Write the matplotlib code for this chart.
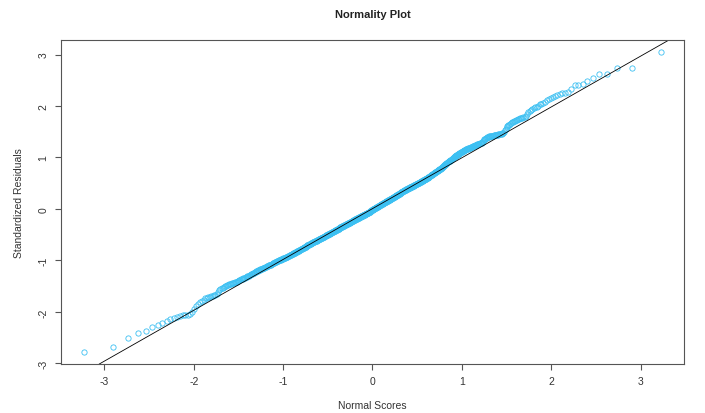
import numpy as np
import matplotlib
matplotlib.use("Agg")
import matplotlib.pyplot as plt
from statistics import NormalDist

plt.rcParams['font.family'] = ['Liberation Sans', 'DejaVu Sans']
plt.rcParams['axes.unicode_minus'] = False

# sorted standardized residuals (n = 800)
resid_tail_lo = [
    -2.78, -2.69, -2.50, -2.42, -2.38, -2.30, -2.25, -2.22, -2.17, -2.13,
    -2.11, -2.10, -2.08, -2.07, -2.06, -2.06, -2.04, -2.00, -1.94, -1.88,
    -1.84, -1.81, -1.78, -1.76, -1.74, -1.73, -1.72, -1.71, -1.70, -1.69,
]
resid_lo = [
    -1.68, -1.67, -1.66, -1.62, -1.57, -1.55, -1.54, -1.53, -1.51, -1.50,
    -1.49, -1.48, -1.47, -1.46, -1.45, -1.45, -1.44, -1.43, -1.43, -1.42,
    -1.42, -1.41, -1.40, -1.40, -1.39, -1.38, -1.37, -1.36, -1.36, -1.35,
    -1.34, -1.34, -1.33, -1.32, -1.31, -1.30, -1.30, -1.29, -1.28, -1.27,
    -1.27, -1.26, -1.25, -1.24, -1.24, -1.23, -1.22, -1.21, -1.21, -1.20,
    -1.19, -1.19, -1.18, -1.17, -1.17, -1.16, -1.16, -1.15, -1.15, -1.14,
    -1.14, -1.13, -1.12, -1.12, -1.11, -1.11, -1.10, -1.10, -1.09, -1.09,
    -1.09, -1.08, -1.08, -1.07, -1.07, -1.06, -1.06, -1.05, -1.05, -1.04,
    -1.04, -1.03, -1.03, -1.02, -1.02, -1.01, -1.01, -1.00, -1.00, -1.00,
    -0.99, -0.99, -0.98, -0.98, -0.97, -0.97, -0.97, -0.96,
]
resid_mid = [
    -0.96, -0.96, -0.95, -0.95, -0.94, -0.94, -0.93, -0.93, -0.93, -0.92, -0.92, -0.91,
    -0.91, -0.90, -0.90, -0.89, -0.89, -0.89, -0.88, -0.88, -0.87, -0.87,
    -0.86, -0.86, -0.86, -0.85, -0.85, -0.84, -0.84, -0.83, -0.83, -0.82,
    -0.82, -0.82, -0.81, -0.81, -0.80, -0.80, -0.79, -0.79, -0.78, -0.78,
    -0.78, -0.77, -0.77, -0.76, -0.76, -0.75, -0.75, -0.75, -0.74, -0.74,
    -0.73, -0.73, -0.73, -0.72, -0.72, -0.71, -0.71, -0.71, -0.70, -0.70,
    -0.70, -0.69, -0.69, -0.68, -0.68, -0.68, -0.67, -0.67, -0.67, -0.66,
    -0.66, -0.65, -0.65, -0.65, -0.64, -0.64, -0.64, -0.63, -0.63, -0.63,
    -0.62, -0.62, -0.62, -0.61, -0.61, -0.60, -0.60, -0.60, -0.59, -0.59,
    -0.59, -0.58, -0.58, -0.58, -0.57, -0.57, -0.57, -0.56, -0.56, -0.56,
    -0.55, -0.55, -0.55, -0.54, -0.54, -0.54, -0.53, -0.53, -0.52, -0.52,
    -0.52, -0.51, -0.51, -0.51, -0.50, -0.50, -0.50, -0.49, -0.49, -0.49,
    -0.48, -0.48, -0.48, -0.47, -0.47, -0.47, -0.46, -0.46, -0.46, -0.45,
    -0.45, -0.45, -0.44, -0.44, -0.44, -0.43, -0.43, -0.43, -0.42, -0.42,
    -0.42, -0.41, -0.41, -0.41, -0.40, -0.40, -0.40, -0.39, -0.39, -0.39,
    -0.38, -0.38, -0.38, -0.37, -0.37, -0.37, -0.36, -0.36, -0.36, -0.36,
    -0.35, -0.35, -0.35, -0.34, -0.34, -0.34, -0.33, -0.33, -0.33, -0.33,
    -0.32, -0.32, -0.32, -0.31, -0.31, -0.31, -0.30, -0.30, -0.30, -0.30,
    -0.29, -0.29, -0.29, -0.28, -0.28, -0.28, -0.27, -0.27, -0.27, -0.27,
    -0.26, -0.26, -0.26, -0.25, -0.25, -0.25, -0.24, -0.24, -0.24, -0.23,
    -0.23, -0.23, -0.22, -0.22, -0.22, -0.21, -0.21, -0.21, -0.20, -0.20,
    -0.20, -0.19, -0.19, -0.19, -0.19, -0.18, -0.18, -0.18, -0.17, -0.17,
    -0.17, -0.17, -0.16, -0.16, -0.16, -0.15, -0.15, -0.15, -0.14, -0.14,
    -0.14, -0.14, -0.13, -0.13, -0.13, -0.12, -0.12, -0.12, -0.12, -0.11,
    -0.11, -0.11, -0.10, -0.10, -0.10, -0.10, -0.09, -0.09, -0.09, -0.08,
    -0.08, -0.08, -0.07, -0.07, -0.07, -0.07, -0.06, -0.06, -0.06, -0.05,
    -0.05, -0.05, -0.04, -0.04, -0.04, -0.03, -0.03, -0.03, -0.02, -0.02,
    -0.02, -0.01, -0.01, -0.01, 0.00, 0.00, 0.00, 0.01, 0.01, 0.01,
    0.02, 0.02, 0.02, 0.03, 0.03, 0.03, 0.04, 0.04, 0.04, 0.05, 0.05,
    0.05, 0.06, 0.06, 0.06, 0.07, 0.07, 0.07, 0.08, 0.08, 0.08,
    0.09, 0.09, 0.09, 0.10, 0.10, 0.10, 0.11, 0.11, 0.11, 0.12,
    0.12, 0.12, 0.13, 0.13, 0.13, 0.14, 0.14, 0.14, 0.15, 0.15,
    0.15, 0.16, 0.16, 0.16, 0.17, 0.17, 0.17, 0.18, 0.18, 0.18,
    0.19, 0.19, 0.19, 0.20, 0.20, 0.20, 0.21, 0.21, 0.21, 0.22,
    0.22, 0.22, 0.23, 0.23, 0.23, 0.24, 0.24, 0.24, 0.25, 0.25,
    0.26, 0.26, 0.26, 0.27, 0.27, 0.27, 0.28, 0.28, 0.28, 0.29,
    0.29, 0.29, 0.30, 0.30, 0.30, 0.31, 0.31, 0.31, 0.32, 0.32,
    0.32, 0.33, 0.33, 0.33, 0.34, 0.34, 0.34, 0.35, 0.35, 0.35,
    0.36, 0.36, 0.36, 0.37, 0.37, 0.37, 0.38, 0.38, 0.38, 0.39,
    0.39, 0.39, 0.40, 0.40, 0.40, 0.41, 0.41, 0.41, 0.42, 0.42,
    0.42, 0.42, 0.43, 0.43, 0.43, 0.44, 0.44, 0.44, 0.45, 0.45,
    0.45, 0.46, 0.46, 0.46, 0.47, 0.47, 0.47, 0.48, 0.48, 0.48,
    0.49, 0.49, 0.49, 0.50, 0.50, 0.50, 0.51, 0.51, 0.51, 0.52,
    0.52, 0.52, 0.53, 0.53, 0.53, 0.54, 0.54, 0.55, 0.55, 0.55,
    0.56, 0.56, 0.56, 0.57, 0.57, 0.58, 0.58, 0.58, 0.59, 0.59,
    0.59, 0.60, 0.60, 0.61, 0.61, 0.62, 0.62, 0.62, 0.63, 0.63,
    0.64, 0.64, 0.65, 0.65, 0.65, 0.66, 0.66, 0.67, 0.67, 0.68,
    0.68, 0.69, 0.69, 0.70, 0.70, 0.71, 0.71, 0.72, 0.72, 0.73,
    0.73, 0.74, 0.74, 0.75, 0.75, 0.76, 0.76, 0.77, 0.77, 0.78,
    0.78, 0.79, 0.80, 0.80, 0.81, 0.82, 0.82, 0.83, 0.84, 0.85,
    0.85, 0.86, 0.87, 0.87, 0.88, 0.89, 0.89, 0.90, 0.91, 0.91,
    0.92, 0.93, 0.93, 0.94, 0.94, 0.95, 0.96, 0.96, 0.97, 0.98,
    0.98, 0.99, 0.99, 1.00, 1.01, 1.01, 1.02, 1.02, 1.03, 1.04,
    1.04, 1.05, 1.05, 1.06, 1.07, 1.07, 1.08, 1.08, 1.09, 1.10, 1.10, 1.11,
]
resid_hi = [
    1.11, 1.12, 1.12, 1.13, 1.13, 1.14, 1.14, 1.15,
    1.16, 1.16, 1.17, 1.17, 1.17, 1.18, 1.18, 1.19, 1.19, 1.19,
    1.20, 1.20, 1.21, 1.21, 1.22, 1.22, 1.23, 1.23, 1.24, 1.24,
    1.25, 1.25, 1.26, 1.26, 1.26, 1.27, 1.27, 1.28, 1.28, 1.29,
    1.29, 1.31, 1.33, 1.34, 1.35, 1.36, 1.36, 1.38, 1.38, 1.39,
    1.40, 1.40, 1.41, 1.41, 1.41, 1.42, 1.42, 1.42, 1.42, 1.43,
    1.43, 1.43, 1.44, 1.44, 1.44, 1.45, 1.45, 1.45, 1.46, 1.46,
    1.47, 1.48, 1.50, 1.53, 1.56, 1.59,
    1.61, 1.63, 1.64, 1.66, 1.67, 1.68, 1.69, 1.70, 1.71, 1.72, 1.73, 1.74, 1.75,
    1.76, 1.76, 1.77, 1.78, 1.79, 1.81, 1.84, 1.88, 1.91, 1.93,
]
resid_tail_hi = [
    1.95, 1.96, 1.98, 1.99, 2.01, 2.03, 2.04, 2.06, 2.08, 2.11,
    2.13, 2.15, 2.17, 2.19, 2.21, 2.23, 2.25, 2.26, 2.27, 2.33,
    2.40, 2.41, 2.42, 2.49, 2.55, 2.62, 2.63, 2.74, 2.74, 3.05,
]

ticks = [-3, -2, -1, 0, 1, 2, 3]

resid = np.sort(np.array(resid_tail_lo + resid_lo + resid_mid + resid_hi + resid_tail_hi))
n = len(resid)

# normal scores as in qqnorm (ppoints with a = 0.5)
nd = NormalDist()
scores = np.array([nd.inv_cdf((i - 0.5) / n) for i in range(1, n + 1)])

# qqline through the quartiles
q1, q3 = np.quantile(resid, [0.25, 0.75])
z1, z3 = nd.inv_cdf(0.25), nd.inv_cdf(0.75)
slope = (q3 - q1) / (z3 - z1)
icept = q1 - slope * z1

fig = plt.figure(figsize=(7.05, 4.14), dpi=100)
ax = fig.add_axes([61 / 705, 1 - 365 / 414, 623 / 705, 324 / 414])

ax.plot(scores, resid, 'o', ms=3.8, mfc='none', mec='#3CC0F2', mew=0.6)
ax.axline((0, icept), slope=slope, color='black', lw=0.6)
ax.margins(0.04)

ax.set_xticks(ticks)
ax.set_yticks(ticks)
ax.tick_params(direction='out', length=4, width=0.8, colors='#555555',
               labelcolor='#333333', labelsize=7.5, pad=5)
ax.tick_params(axis='y', labelrotation=90)
for lab in ax.get_yticklabels():
    lab.set_va('center')
for s in ax.spines.values():
    s.set_color('#555555')
    s.set_linewidth(0.8)

ax.set_xlabel('Normal Scores', fontsize=7.5, color='#333333')
ax.set_ylabel('Standardized Residuals', fontsize=7.5, color='#333333')
ax.xaxis.set_label_coords(0.5, -0.1265)
ax.yaxis.set_label_coords(-0.0674, 0.5)
ax.xaxis.label.set_va('center')
ax.yaxis.label.set_va('center')
ax.set_title('Normality Plot', fontsize=8, fontweight='bold', color='#222222',
             y=1.08, va='center', pad=0)

fig.savefig('out.png', dpi=100)
